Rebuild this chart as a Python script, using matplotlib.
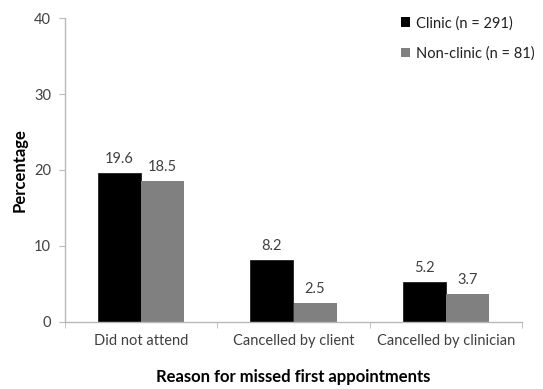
import numpy as np
import matplotlib
matplotlib.use('Agg')
import matplotlib.pyplot as plt
from matplotlib.patches import Patch

categories = ['Did not attend', 'Cancelled by client', 'Cancelled by clinician']
clinic = [19.6, 8.2, 5.2]
non_clinic = [18.5, 2.5, 3.7]
series_names = ['Clinic (n = 291)', 'Non-clinic (n = 81)']
y_ticks = [0, 10, 20, 30, 40]

plt.rcParams['font.family'] = ['Lato', 'DejaVu Sans']

fig = plt.figure(figsize=(5.43, 3.89), dpi=100)
ax = fig.add_axes([65/543, 1-321.7/389, (522-65)/543, (321.7-18.3)/389])

x = np.arange(len(categories))
w = 0.283
b1 = ax.bar(x - w/2, clinic, w, color='black', edgecolor='#202020', linewidth=0.6)
b2 = ax.bar(x + w/2, non_clinic, w, color='#808080')

# value labels above each bar
for bars in (b1, b2):
    for rect in bars:
        h = rect.get_height()
        ax.annotate(f'{h:.1f}', (rect.get_x() + rect.get_width()/2, h),
                    xytext=(0, 10), textcoords='offset points',
                    ha='center', va='center', fontsize=10.5, color='#404040')

ax.set_xlim(-0.5, 2.5)
ax.set_ylim(0, 40)
ax.set_yticks(y_ticks)
ax.set_xticks(x)
ax.set_xticklabels(categories)
ax.set_xticks([-0.5, 0.5, 1.5, 2.5], minor=True)

for s in ['top', 'right']:
    ax.spines[s].set_visible(False)
for s in ['left', 'bottom']:
    ax.spines[s].set_color('#b8b8b8')
    ax.spines[s].set_linewidth(1.0)

ax.tick_params(axis='y', length=4, color='#b8b8b8', labelsize=10.5, labelcolor='#404040', pad=6)
ax.tick_params(axis='x', which='major', length=0, labelsize=10.5, labelcolor='#404040', pad=9)
ax.tick_params(axis='x', which='minor', length=4, color='#b8b8b8')

ax.set_ylabel('Percentage', fontsize=12, fontweight='bold', labelpad=4.5)
ax.set_xlabel('Reason for missed first appointments', fontsize=12, fontweight='bold', labelpad=15)

handles = [Patch(facecolor='black'), Patch(facecolor='#808080')]
leg = fig.legend(handles, series_names, loc='upper left', bbox_to_anchor=(401/543, 1-16/389),
                 frameon=False, fontsize=10.5, handlelength=0.65, handleheight=0.65,
                 handletextpad=0.35, labelspacing=1.1, labelcolor='#202020',
                 borderpad=0, borderaxespad=0)

fig.savefig('out.png', dpi=100)
